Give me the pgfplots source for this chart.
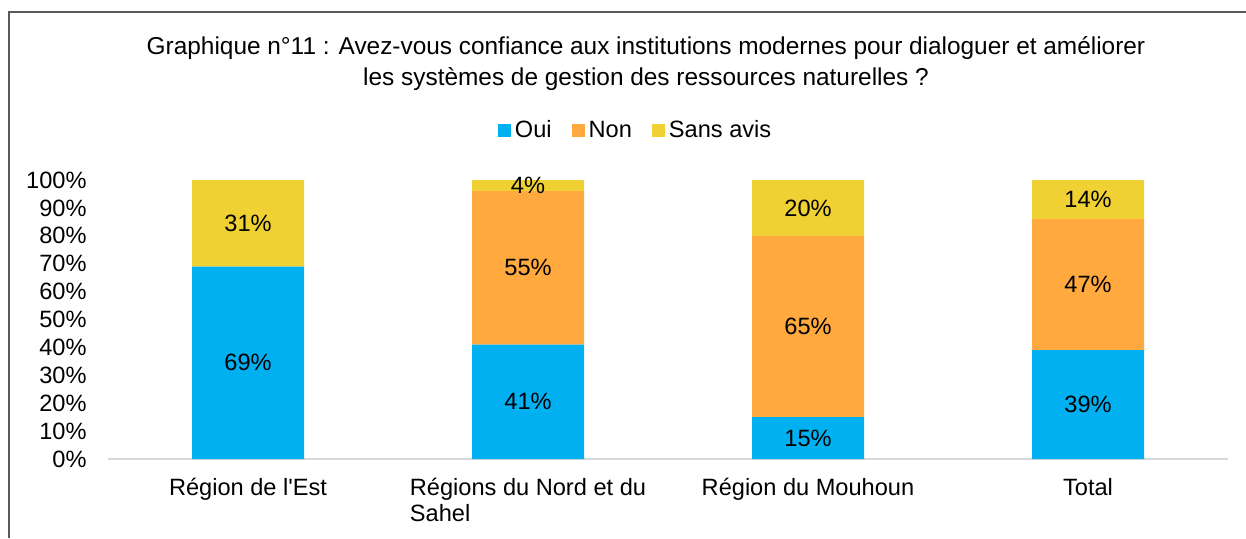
\documentclass[border=0pt]{standalone}
\usepackage{fontspec}
\setmainfont{Liberation Sans}
\usepackage{pgfplots}
\pgfplotsset{compat=1.18}
\definecolor{oui}{HTML}{00B0F0}
\definecolor{non}{HTML}{FFA93F}
\definecolor{sans}{HTML}{F0D133}
\begin{document}
\begin{tikzpicture}[x=1pt,y=1pt]
\path[use as bounding box] (0,0) rectangle (623,269);
\draw[black!65, line width=1pt] (4.5,0) -- (4.5,263) -- (623,263);
\node[align=center, font=\fontsize{12.2}{15.5}\selectfont] at (323,237.2) {Graphique n°11 : Avez-vous confiance aux institutions modernes pour dialoguer et améliorer\\les systèmes de gestion des ressources naturelles ?};
\pgfplotsset{common/.style={
  at={(54pt,39.5pt)}, anchor=south west,
  scale only axis, width=560pt, height=139.5pt,
  xmin=-0.5, xmax=3.5, ymin=0, ymax=100,
  enlarge x limits=false, enlarge y limits=false}}
\begin{axis}[
  common,
  ybar stacked, bar width=56pt,
  xtick={0,1,2,3},
  xticklabels={R\'egion de l\textquotesingle Est, R\'egions du Nord et du\\Sahel, R\'egion du Mouhoun, Total},
  ytick={0,10,...,100},
  yticklabel={\pgfmathprintnumber{\tick}\%},
  /pgf/number format/assume math mode=true,
  tick label style={font=\fontsize{11.8}{13}\selectfont},
  xticklabel style={align=left, anchor=north, yshift=-6pt},
  yticklabel style={anchor=east, inner sep=0pt, xshift=-10.5pt},
  axis lines*=left,
  y axis line style={draw=none},
  x axis line style={draw=black!15, line width=1pt},
  major tick length=0pt,
  legend style={at={(0.472,1.176)}, anchor=center, draw=none, legend columns=3,
    font=\fontsize{11.8}{13}\selectfont,
    /tikz/every even column/.append style={column sep=8pt}},
  legend image code/.code={\draw[#1, draw=none] (0pt,-3.2pt) rectangle (6.5pt,3.3pt);},
]
\addplot[fill=oui, draw=none] coordinates {(0,69) (1,41) (2,15) (3,39)};
\addplot[fill=non, draw=none] coordinates {(0,0) (1,55) (2,65) (3,47)};
\addplot[fill=sans, draw=none] coordinates {(0,31) (1,4) (2,20) (3,14)};
\legend{Oui, Non, Sans avis}
\end{axis}
\begin{axis}[common, hide axis]
\addplot[draw=none, mark=none, point meta=explicit symbolic, nodes near coords,
  every node near coord/.append style={anchor=center, font=\fontsize{11.8}{13}\selectfont}]
  coordinates {(0,34.5) [69\%] (0,84.5) [31\%]
               (1,20.5) [41\%] (1,68.5) [55\%] (1,98) [4\%]
               (2,7.5) [15\%] (2,47.5) [65\%] (2,90) [20\%]
               (3,19.5) [39\%] (3,62.5) [47\%] (3,93) [14\%]};
\end{axis}
\end{tikzpicture}
\end{document}
